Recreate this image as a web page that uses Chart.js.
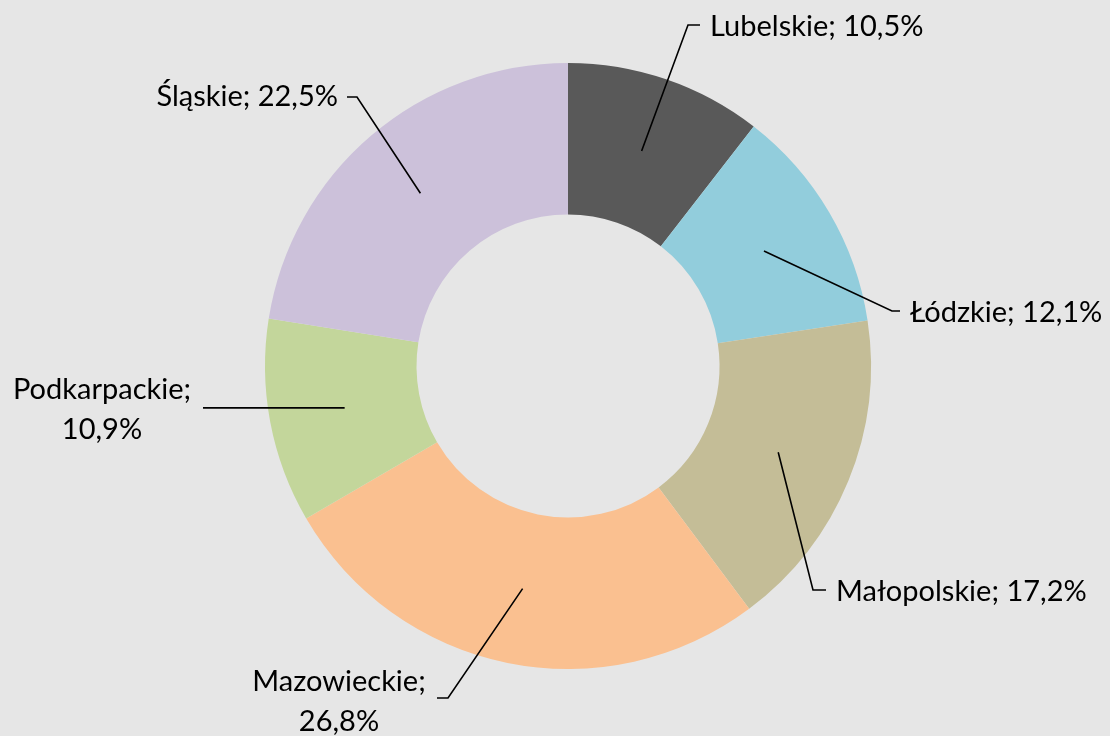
<!DOCTYPE html>
<html>
<head>
<meta charset="utf-8">
<script src="https://cdn.jsdelivr.net/npm/chart.js@4"></script>
<style>
    html, body { margin: 0; padding: 0; background: #e6e6e6; }
    #wrap { width: 1110px; height: 736px; position: relative; }
</style>
</head>
<body>
<div id="wrap"><canvas id="wykres"></canvas></div>
<script>
const regiony = ['Lubelskie', 'Łódzkie', 'Małopolskie', 'Mazowieckie', 'Podkarpackie', 'Śląskie'];
const udzialy = [10.5, 12.1, 17.2, 26.8, 10.9, 22.5];
const kolory = ['#595959', '#92cddc', '#c4bd97', '#fac090', '#c3d69b', '#ccc1da'];

// gdzie stoi etykieta: punkt załamania linii, koniec poziomego odcinka, tekst
const etykiety = [
    { lamanie: [688, 25], koniec: [700, 25], tekst: [710, 27], wyrownanie: 'left', linie: 1 },
    { lamanie: [892, 311], koniec: [900, 311], tekst: [910, 313], wyrownanie: 'left', linie: 1 },
    { lamanie: [813, 590], koniec: [826, 590], tekst: [836, 592], wyrownanie: 'left', linie: 1 },
    { lamanie: [448, 698], koniec: [437, 698], tekst: [339, 682], wyrownanie: 'center', linie: 2 },
    { lamanie: null, koniec: [203, 407], tekst: [102, 390], wyrownanie: 'center', linie: 2 },
    { lamanie: [357, 97], koniec: [347, 97], tekst: [338, 97], wyrownanie: 'right', linie: 1 },
];

const formatProcent = v => v.toFixed(1).replace('.', ',') + '%';

const etykietyPlugin = {
    id: 'etykiety',
    afterDatasetsDraw(chart) {
        const ctx = chart.ctx;
        const luki = chart.getDatasetMeta(0).data;
        ctx.save();
        ctx.strokeStyle = '#000';
        ctx.lineWidth = 1.6;
        ctx.fillStyle = '#000';
        ctx.font = '29px Lato, "Open Sans", sans-serif';
        ctx.textBaseline = 'middle';

        luki.forEach((luk, i) => {
            const e = etykiety[i];
            const p = luk.getProps(['x', 'y', 'startAngle', 'endAngle', 'innerRadius', 'outerRadius'], true);
            const kat = (p.startAngle + p.endAngle) / 2;
            const r = (p.innerRadius + p.outerRadius) / 2;
            const sx = p.x + Math.cos(kat) * r;
            const sy = p.y + Math.sin(kat) * r;

            ctx.beginPath();
            ctx.moveTo(sx, sy);
            if (e.lamanie) ctx.lineTo(e.lamanie[0], e.lamanie[1]);
            else ctx.lineTo(e.koniec[0], sy);
            ctx.lineTo(e.koniec[0], e.lamanie ? e.koniec[1] : sy);
            ctx.stroke();

            ctx.textAlign = e.wyrownanie;
            const wartosc = formatProcent(udzialy[i]);
            if (e.linie === 2) {
                ctx.fillText(regiony[i] + ';', e.tekst[0], e.tekst[1]);
                ctx.fillText(wartosc, e.tekst[0], e.tekst[1] + 40);
            } else {
                ctx.fillText(`${regiony[i]}; ${wartosc}`, e.tekst[0], e.tekst[1]);
            }
        });
        ctx.restore();
    }
};

new Chart(document.getElementById('wykres'), {
    type: 'doughnut',
    data: {
        labels: regiony,
        datasets: [{
            data: udzialy,
            backgroundColor: kolory,
            borderWidth: 0,
        }],
    },
    options: {
        responsive: true,
        maintainAspectRatio: false,
        animation: false,
        cutout: '50%',
        layout: { padding: { left: 265, right: 239, top: 63, bottom: 67 } },
        plugins: {
            legend: { display: false },
            tooltip: { enabled: false },
        },
    },
    plugins: [etykietyPlugin],
});
</script>
</body>
</html>
